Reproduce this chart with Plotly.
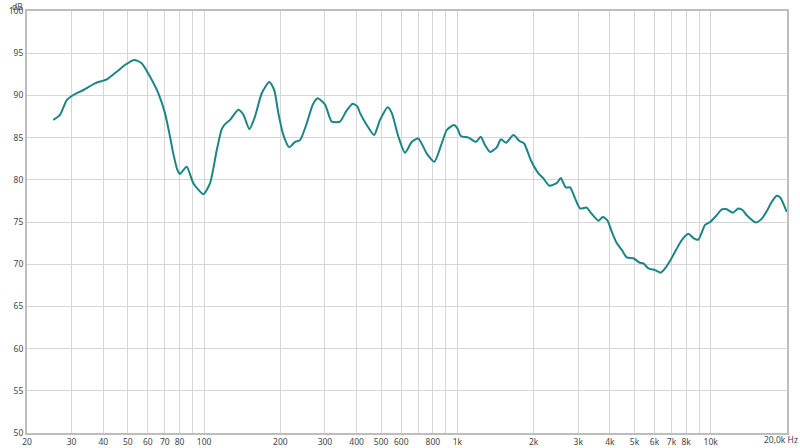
import numpy as np
import plotly.graph_objects as go

# Frequency response (Hz, dB).
freq = [
    25.4, 27.0, 28.7, 30.5, 33.4, 37.1, 41.3, 45.2, 48.7, 53.0,
    56.7, 61.2, 66.0, 70.1, 73.4, 75.6, 78.4, 80.2, 85.4, 90.7,
    99.3, 105.6, 112.2, 117.4, 121, 126.6, 136.6, 143, 150.9, 158.9,
    168.9, 181, 189.4, 196.4, 205.6, 217.1, 228.6, 239.3, 254.3, 268.5,
    281, 300.3, 319, 344, 363.5, 386.2, 402.7, 412.9, 438.6, 469,
    495, 531, 551, 585, 621, 661, 701, 757, 811, 867,
    908, 970, 1000, 1031, 1105, 1185, 1236, 1286, 1346, 1430,
    1486, 1557, 1664, 1757, 1834, 1948, 2085, 2181, 2306, 2466,
    2558, 2677, 2784, 2914, 3050, 3241, 3340, 3450, 3603, 3748,
    3908, 4068, 4257, 4455, 4662, 4953, 5232, 5421, 5677, 6027,
    6351, 6604, 6911, 7299, 7686, 8163, 8540, 8934, 9496, 9935,
    10559, 11055, 11570, 12220, 12860, 13380, 13870, 15100, 15910, 16650,
    17420, 18230, 18800, 19950,
]
db = [
    87.1, 87.7, 89.45, 90.05, 90.64, 91.43, 91.9, 92.8, 93.6, 94.2,
    93.8, 92.2, 90.25, 87.9, 85.1, 83.1, 81.2, 80.7, 81.55, 79.6,
    78.3, 79.6, 83.5, 86.0, 86.6, 87.1, 88.3, 87.7, 86.0, 87.5,
    90.25, 91.6, 90.6, 87.9, 85.3, 83.85, 84.5, 84.7, 86.7, 88.9,
    89.65, 88.9, 86.9, 86.9, 88.1, 89.0, 88.7, 87.9, 86.5, 85.3,
    87.1, 88.6, 87.9, 85.1, 83.2, 84.5, 84.9, 83.1, 82.15, 84.3,
    85.9, 86.5, 86.1, 85.2, 85.0, 84.5, 85.1, 84.1, 83.3, 83.85,
    84.8, 84.4, 85.3, 84.6, 84.3, 82.35, 80.8, 80.2, 79.3, 79.6,
    80.2, 79.1, 79.1, 77.8, 76.6, 76.7, 76.2, 75.7, 75.15, 75.6,
    75.2, 73.85, 72.5, 71.7, 70.8, 70.7, 70.2, 70.1, 69.5, 69.3,
    69.0, 69.5, 70.4, 71.7, 72.85, 73.6, 73.1, 72.9, 74.65, 75.0,
    75.8, 76.5, 76.5, 76.1, 76.6, 76.4, 75.8, 74.95, 75.4, 76.3,
    77.4, 78.1, 77.9, 76.2,
]

# Grid positions and their labels (blank = gridline only).
grid_hz = [20, 30, 40, 50, 60, 70, 80, 90,
           100, 200, 300, 400, 500, 600, 700, 800, 900,
           1000, 2000, 3000, 4000, 5000, 6000, 7000, 8000, 9000,
           10000, 20000]
grid_text = ['20', '30', '40', '50', '60', '70', '80', '',
             '100', '200', '300', '400', '500', '600', '', '800', '',
             '1k', '2k', '3k', '4k', '5k', '6k', '7k', '8k', '',
             '10k', '']
db_ticks = [50, 55, 60, 65, 70, 75, 80, 85, 90, 95, 100]

text_color = '#444444'
label_font = dict(family='Noto Sans', size=8.5, color=text_color)

layout = dict(
    width=800,
    height=448,
    plot_bgcolor='white',
    paper_bgcolor='white',
    showlegend=False,
    margin=dict(t=11, r=13, b=15, l=27, pad=0),
    font=label_font,
    xaxis=dict(
        type='log',
        range=[np.log10(20), np.log10(20000)],
        automargin=False,
        tickmode='array',
        tickvals=grid_hz,
        ticktext=grid_text,
        tickangle=0,
        ticks='',
        showgrid=True,
        gridcolor='#d6d6d6',
        gridwidth=1,
        zeroline=False,
        showline=True,
        linecolor='#bdbdbd',
        linewidth=2,
        mirror=True,
        tickfont=label_font,
    ),
    yaxis=dict(
        range=[50, 100],
        automargin=False,
        tickmode='array',
        tickvals=db_ticks,
        ticks='',
        showgrid=True,
        gridcolor='#d6d6d6',
        gridwidth=1,
        zeroline=False,
        showline=True,
        linecolor='#bdbdbd',
        linewidth=2,
        mirror=True,
        tickfont=label_font,
    ),
    annotations=[
        dict(text='dB', xref='paper', yref='paper', x=0, y=1,
             xanchor='right', yanchor='top', xshift=-2, yshift=12,
             showarrow=False, font=label_font),
        dict(text='20,0k Hz', xref='paper', yref='paper', x=1, y=0,
             xanchor='right', yanchor='top', xshift=13, yshift=1,
             showarrow=False, font=label_font),
    ],
)

trace = go.Scatter(
    x=freq,
    y=db,
    mode='lines',
    line=dict(color='#1b8585', width=2, shape='spline', smoothing=0.6),
    hovertemplate='%{x:.0f} Hz<br>%{y:.1f} dB<extra></extra>',
)

fig = go.Figure(data=[trace], layout=layout)
# Drop the browser's default body margin so the 800x448 figure fills the window.
fig.write_html(
    'out.html',
    config={'displayModeBar': False},
    post_script="document.body.style.margin='0';",
)
